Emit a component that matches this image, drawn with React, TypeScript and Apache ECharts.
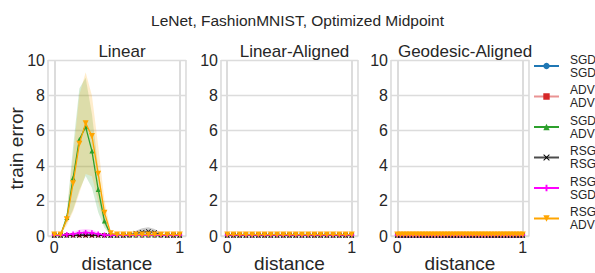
import React, { useEffect, useRef } from 'react';
import * as echarts from 'echarts';

const X21 = [0, 0.05, 0.1, 0.15, 0.2, 0.25, 0.3, 0.35, 0.4, 0.45, 0.5, 0.55, 0.6, 0.65, 0.7, 0.75, 0.8, 0.85, 0.9, 0.95, 1];
const X41 = [0, 0.025, 0.05, 0.075, 0.1, 0.125, 0.15, 0.175, 0.2, 0.225, 0.25, 0.275, 0.3, 0.325, 0.35, 0.375, 0.4, 0.425, 0.45, 0.475, 0.5, 0.525, 0.55, 0.575, 0.6, 0.625, 0.65, 0.675, 0.7, 0.725, 0.75, 0.775, 0.8, 0.825, 0.85, 0.875, 0.9, 0.925, 0.95, 0.975, 1];

const MAIN_TITLE = 'LeNet, FashionMNIST, Optimized Midpoint';
const PANEL_TITLES = ['Linear', 'Linear-Aligned', 'Geodesic-Aligned'];
const SERIES_NAMES = ['SGD\nSGD', 'ADV\nADV', 'SGD\nADV', 'RSG\nRSG', 'RSG\nSGD', 'RSG\nADV'];
const Y_MIN = 0;
const Y_MAX = 10;
const Y_STEP = 2;
const X_TICKS = [0, 1];

// Panel 1: Linear (means and std)
const LIN_SGD_SGD = [0.03, 0.03, 0.03, 0.04, 0.06, 0.08, 0.06, 0.04, 0.03, 0.03, 0.03, 0.03, 0.03, 0.03, 0.03, 0.03, 0.03, 0.03, 0.03, 0.03, 0.03];
const LIN_SGD_SGD_STD = [0, 0, 0.03, 0.08, 0.15, 0.2, 0.15, 0.08, 0.03, 0, 0, 0, 0, 0, 0, 0, 0, 0, 0, 0, 0];
const LIN_ADV_ADV = [0.04, 0.04, 0.04, 0.04, 0.04, 0.04, 0.04, 0.04, 0.04, 0.04, 0.04, 0.04, 0.04, 0.04, 0.04, 0.04, 0.04, 0.04, 0.04, 0.04, 0.04];
const LIN_ADV_ADV_STD = [0, 0, 0, 0, 0, 0, 0, 0, 0, 0, 0, 0, 0, 0, 0, 0, 0, 0, 0, 0, 0];
const LIN_SGD_ADV = [0.05, 0.05, 1.05, 3.3, 5.5, 6.22, 4.85, 2.65, 0.85, 0.05, 0.05, 0.05, 0.05, 0.05, 0.05, 0.05, 0.05, 0.05, 0.05, 0.05, 0.05];
const LIN_SGD_ADV_STD = [0, 0, 0.3, 1.8, 2.9, 2.8, 2.1, 1.3, 0.4, 0, 0, 0, 0, 0, 0, 0, 0, 0, 0, 0, 0];
const LIN_RSG_RSG = [0.03, 0.03, 0.03, 0.03, 0.03, 0.03, 0.03, 0.03, 0.03, 0.03, 0.03, 0.03, 0.05, 0.15, 0.22, 0.25, 0.2, 0.07, 0.03, 0.03, 0.03];
const LIN_RSG_RSG_STD = [0, 0, 0, 0, 0, 0, 0, 0, 0, 0, 0, 0, 0.05, 0.15, 0.22, 0.25, 0.2, 0.08, 0, 0, 0];
const LIN_RSG_SGD = [0.05, 0.05, 0.08, 0.12, 0.18, 0.2, 0.18, 0.12, 0.06, 0.05, 0.05, 0.05, 0.05, 0.05, 0.05, 0.05, 0.05, 0.05, 0.05, 0.05, 0.05];
const LIN_RSG_SGD_STD = [0, 0, 0.05, 0.1, 0.18, 0.2, 0.18, 0.1, 0.05, 0, 0, 0, 0, 0, 0, 0, 0, 0, 0, 0, 0];
const LIN_RSG_ADV = [0.08, 0.08, 0.95, 3.0, 5.25, 6.43, 5.7, 3.55, 1.33, 0.15, 0.08, 0.08, 0.08, 0.08, 0.08, 0.08, 0.08, 0.08, 0.08, 0.08, 0.08];
const LIN_RSG_ADV_STD = [0, 0, 0.35, 1.6, 2.8, 2.9, 2.3, 1.6, 0.7, 0.1, 0, 0, 0, 0, 0, 0, 0, 0, 0, 0, 0];

// Panel 2: Linear-Aligned
const LA_SGD_SGD = [0.03, 0.03, 0.03, 0.03, 0.03, 0.03, 0.03, 0.03, 0.03, 0.03, 0.03, 0.03, 0.03, 0.03, 0.03, 0.03, 0.03, 0.03, 0.03, 0.03, 0.03];
const LA_ADV_ADV = [0.04, 0.04, 0.04, 0.04, 0.04, 0.04, 0.04, 0.04, 0.04, 0.04, 0.04, 0.04, 0.04, 0.04, 0.04, 0.04, 0.04, 0.04, 0.04, 0.04, 0.04];
const LA_SGD_ADV = [0.05, 0.05, 0.05, 0.05, 0.05, 0.05, 0.05, 0.05, 0.05, 0.05, 0.05, 0.05, 0.05, 0.05, 0.05, 0.05, 0.05, 0.05, 0.05, 0.05, 0.05];
const LA_RSG_RSG = [0.03, 0.03, 0.03, 0.03, 0.03, 0.03, 0.03, 0.03, 0.03, 0.03, 0.03, 0.03, 0.03, 0.03, 0.03, 0.03, 0.03, 0.03, 0.03, 0.03, 0.03];
const LA_RSG_SGD = [0.06, 0.06, 0.06, 0.06, 0.06, 0.06, 0.06, 0.06, 0.06, 0.06, 0.06, 0.06, 0.06, 0.06, 0.06, 0.06, 0.06, 0.06, 0.06, 0.06, 0.06];
const LA_RSG_ADV = [0.08, 0.08, 0.08, 0.08, 0.08, 0.08, 0.08, 0.08, 0.08, 0.08, 0.08, 0.08, 0.08, 0.08, 0.08, 0.08, 0.08, 0.08, 0.08, 0.08, 0.08];

// Panel 3: Geodesic-Aligned
const GA_SGD_SGD = [0.03, 0.03, 0.03, 0.03, 0.03, 0.03, 0.03, 0.03, 0.03, 0.03, 0.03, 0.03, 0.03, 0.03, 0.03, 0.03, 0.03, 0.03, 0.03, 0.03, 0.03, 0.03, 0.03, 0.03, 0.03, 0.03, 0.03, 0.03, 0.03, 0.03, 0.03, 0.03, 0.03, 0.03, 0.03, 0.03, 0.03, 0.03, 0.03, 0.03, 0.03];
const GA_ADV_ADV = [0.04, 0.04, 0.04, 0.04, 0.04, 0.04, 0.04, 0.04, 0.04, 0.04, 0.04, 0.04, 0.04, 0.04, 0.04, 0.04, 0.04, 0.04, 0.04, 0.04, 0.04, 0.04, 0.04, 0.04, 0.04, 0.04, 0.04, 0.04, 0.04, 0.04, 0.04, 0.04, 0.04, 0.04, 0.04, 0.04, 0.04, 0.04, 0.04, 0.04, 0.04];
const GA_SGD_ADV = [0.05, 0.05, 0.05, 0.05, 0.05, 0.05, 0.05, 0.05, 0.05, 0.05, 0.05, 0.05, 0.05, 0.05, 0.05, 0.05, 0.05, 0.05, 0.05, 0.05, 0.05, 0.05, 0.05, 0.05, 0.05, 0.05, 0.05, 0.05, 0.05, 0.05, 0.05, 0.05, 0.05, 0.05, 0.05, 0.05, 0.05, 0.05, 0.05, 0.05, 0.05];
const GA_RSG_RSG = [0.03, 0.03, 0.03, 0.03, 0.03, 0.03, 0.03, 0.03, 0.03, 0.03, 0.03, 0.03, 0.03, 0.03, 0.03, 0.03, 0.03, 0.03, 0.03, 0.03, 0.03, 0.03, 0.03, 0.03, 0.03, 0.03, 0.03, 0.03, 0.03, 0.03, 0.03, 0.03, 0.03, 0.03, 0.03, 0.03, 0.03, 0.03, 0.03, 0.03, 0.03];
const GA_RSG_SGD = [0.06, 0.06, 0.06, 0.06, 0.06, 0.06, 0.06, 0.06, 0.06, 0.06, 0.06, 0.06, 0.06, 0.06, 0.06, 0.06, 0.06, 0.06, 0.06, 0.06, 0.06, 0.06, 0.06, 0.06, 0.06, 0.06, 0.06, 0.06, 0.06, 0.06, 0.06, 0.06, 0.06, 0.06, 0.06, 0.06, 0.06, 0.06, 0.06, 0.06, 0.06];
const GA_RSG_ADV = [0.08, 0.08, 0.08, 0.08, 0.08, 0.08, 0.08, 0.08, 0.08, 0.08, 0.08, 0.08, 0.08, 0.08, 0.08, 0.08, 0.08, 0.08, 0.08, 0.08, 0.08, 0.08, 0.08, 0.08, 0.08, 0.08, 0.08, 0.08, 0.08, 0.08, 0.08, 0.08, 0.08, 0.08, 0.08, 0.08, 0.08, 0.08, 0.08, 0.08, 0.08];

const FONT = 'Liberation Sans, Arial, sans-serif';
const COLORS = ['#1f77b4', '#d62728', '#2ca02c', '#000000', '#ff00ff', '#ffa500'];
const LINE_OPACITY = [1, 0.5, 1, 0.7, 1, 1];
const SYMBOLS = [
  'circle',
  'rect',
  'triangle',
  'path://M0,1L1,0L5,4L9,0L10,1L6,5L10,9L9,10L5,6L1,10L0,9L4,5Z',
  'path://M3.5,0H6.5V3.5H10V6.5H6.5V10H3.5V6.5H0V3.5H3.5Z',
  'triangle',
];
const SYMBOL_ROTATE = [0, 0, 0, 0, 0, 180];
const SYMBOL_SIZE = [4, 4, 5, 5, 5, 6];

const GRIDS = [
  { left: 48, top: 60.5, width: 138, height: 175.5 },
  { left: 221, top: 60.5, width: 137, height: 175.5 },
  { left: 391, top: 60.5, width: 138, height: 175.5 },
];

const PANELS = [
  { x: X21, means: [LIN_SGD_SGD, LIN_ADV_ADV, LIN_SGD_ADV, LIN_RSG_RSG, LIN_RSG_SGD, LIN_RSG_ADV], stds: [LIN_SGD_SGD_STD, LIN_ADV_ADV_STD, LIN_SGD_ADV_STD, LIN_RSG_RSG_STD, LIN_RSG_SGD_STD, LIN_RSG_ADV_STD] },
  { x: X21, means: [LA_SGD_SGD, LA_ADV_ADV, LA_SGD_ADV, LA_RSG_RSG, LA_RSG_SGD, LA_RSG_ADV], stds: null },
  { x: X41, means: [GA_SGD_SGD, GA_ADV_ADV, GA_SGD_ADV, GA_RSG_RSG, GA_RSG_SGD, GA_RSG_ADV], stds: null },
];

function buildOption() {
  const title: any[] = [
    { text: MAIN_TITLE, left: 'center', top: 7, textStyle: { fontFamily: FONT, fontSize: 15.5, fontWeight: 'normal', color: '#262626' } },
  ];
  const xAxis: any[] = [];
  const yAxis: any[] = [];
  const grid: any[] = [];
  const series: any[] = [];

  GRIDS.forEach((g, i) => {
    grid.push({ ...g, show: true, borderColor: '#d0d0d0', borderWidth: 1.2, backgroundColor: '#fff', containLabel: false, outerBoundsMode: 'none' });
    title.push({
      text: PANEL_TITLES[i],
      left: g.left + g.width / 2,
      top: 38,
      textAlign: 'center',
      textStyle: { fontFamily: FONT, fontSize: 17, fontWeight: 'normal', color: '#262626' },
    });
    xAxis.push({
      type: 'value',
      gridIndex: i,
      min: -0.05,
      max: 1.05,
      interval: 0.05,
      name: 'distance',
      nameLocation: 'middle',
      nameGap: 19,
      nameMoveOverlap: false,
      nameTextStyle: { fontFamily: FONT, fontSize: 19, lineHeight: 17, color: '#262626' },
      axisLine: { show: false },
      axisTick: { show: false },
      splitLine: { show: false },
      axisLabel: {
        fontFamily: FONT,
        fontSize: 16,
        color: '#262626',
        margin: 3,
        showMinLabel: false,
        showMaxLabel: false,
        formatter: (v: number) => {
          for (const t of X_TICKS) if (Math.abs(v - t) < 1e-6) return String(t);
          return '';
        },
      },
    });
    yAxis.push({
      type: 'value',
      gridIndex: i,
      min: Y_MIN,
      max: Y_MAX,
      interval: Y_STEP,
      name: i === 0 ? 'train error' : '',
      nameLocation: 'middle',
      nameGap: 22,
      nameRotate: 90,
      nameMoveOverlap: false,
      nameTextStyle: { fontFamily: FONT, fontSize: 19, color: '#262626' },
      axisLine: { show: false },
      axisTick: { show: false },
      splitLine: { show: true, lineStyle: { color: '#dcdcdc', width: 1.3 } },
      axisLabel: { fontFamily: FONT, fontSize: 16, color: '#262626', margin: 3 },
    });

    const p = PANELS[i];
    series.push({
      type: 'line',
      name: 'vgrid' + i,
      xAxisIndex: i,
      yAxisIndex: i,
      data: [],
      silent: true,
      z: 1,
      markLine: {
        silent: true,
        symbol: 'none',
        label: { show: false },
        lineStyle: { color: '#dcdcdc', width: 2, type: 'solid' },
        data: X_TICKS.map((t) => ({ xAxis: t })),
        animation: false,
      },
    });

    // std bands drawn as polygons through the axes' scales
    if (p.stds) {
      p.means.forEach((m, k) => {
        const s = p.stds![k];
        if (!s.some((v) => v > 0)) return;
        const rows = p.x.map((x, j) => [x, Math.max(0, m[j] - s[j]), m[j] + s[j]]);
        series.push({
          type: 'custom',
          name: 'band' + i + '_' + k,
          xAxisIndex: i,
          yAxisIndex: i,
          data: rows,
          silent: true,
          z: 2,
          clip: true,
          encode: { x: 0, y: [1, 2] },
          renderItem: (params: any, api: any) => {
            if (params.dataIndex !== 0) return null;
            const upper = rows.map((r) => api.coord([r[0], r[2]]));
            const lower = rows.map((r) => api.coord([r[0], r[1]])).reverse();
            return {
              type: 'polygon',
              shape: { points: upper.concat(lower) },
              style: { fill: COLORS[k], opacity: 0.2 },
            };
          },
        });
      });
    }

    p.means.forEach((m, k) => {
      series.push({
        type: 'line',
        name: SERIES_NAMES[k],
        xAxisIndex: i,
        yAxisIndex: i,
        data: p.x.map((x, j) => [x, m[j]]),
        symbol: SYMBOLS[k],
        symbolRotate: SYMBOL_ROTATE[k],
        symbolSize: SYMBOL_SIZE[k],
        showAllSymbol: true,
        itemStyle: { color: COLORS[k] },
        lineStyle: { color: COLORS[k], width: 1.3, opacity: LINE_OPACITY[k] },
        z: 3 + k,
      });
    });
  });

  return {
    animation: false,
    backgroundColor: '#ffffff',
    title,
    grid,
    xAxis,
    yAxis,
    series,
    legend: {
      data: SERIES_NAMES,
      orient: 'vertical',
      left: 533,
      top: 53,
      padding: 0,
      itemGap: 4.5,
      itemWidth: 25,
      itemHeight: 8,
      selectedMode: false,
      textStyle: { fontFamily: FONT, fontSize: 12, lineHeight: 13, color: '#262626', padding: [0, 0, 0, 6] },
    },
  };
}

export default function App() {
  const ref = useRef<HTMLDivElement>(null);
  useEffect(() => {
    if (!ref.current) return;
    const chart = echarts.init(ref.current, undefined, { renderer: 'svg' });
    chart.setOption(buildOption() as any);
    return () => chart.dispose();
  }, []);
  return <div ref={ref} style={{ position: 'absolute', left: 0, top: 0, width: 595, height: 273 }} />;
}
